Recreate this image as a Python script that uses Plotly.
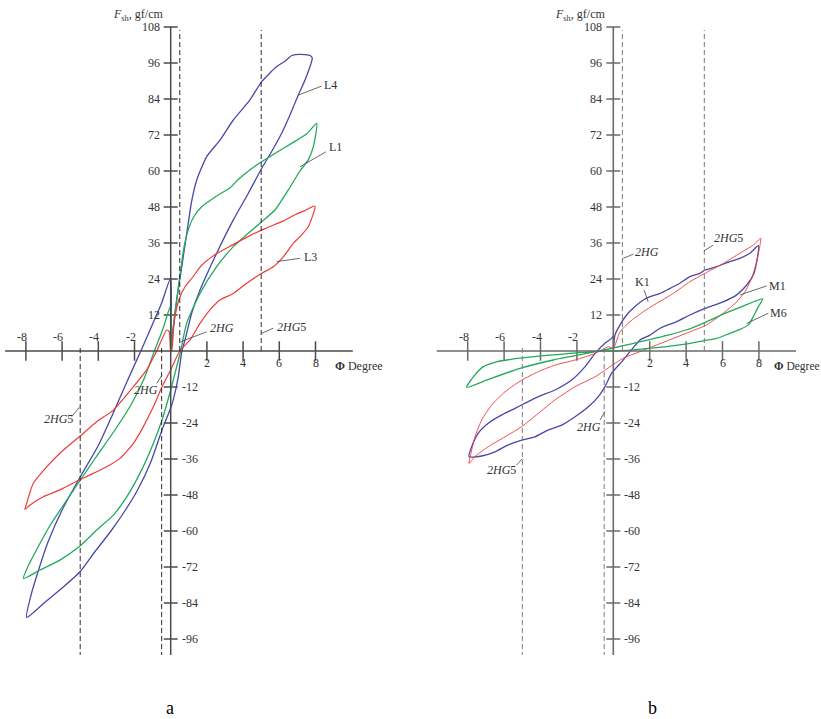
import plotly.graph_objects as go

# ---------------- data ----------------
x_ticks = [-8, -6, -4, -2, 2, 4, 6, 8]
y_ticks = [108, 96, 84, 72, 60, 48, 36, 24, 12, -12, -24, -36, -48, -60, -72, -84, -96]
guide_upper = [0.5, 5]      # 2HG, 2HG5 (positive side)
guide_lower = [-0.5, -5]    # 2HG, 2HG5 (negative side)

# panel a
L4_x = [0, 0.14, 0.33, 0.61, 0.88, 1.16, 1.44, 1.99, 2.72, 3.46, 4.38, 5.03, 5.86, 6.31, 6.69, 7.14, 7.7, 7.82,
        7.42, 7.05, 6.59, 6.13, 5.54, 5.03, 4.29, 3.46, 2.54, 1.62, 1.16, 0.79, 0.61, 0.42, 0.14, 0, -0.48, -1.1,
        -1.8, -2.5, -3.3, -4.2, -5.0, -6.0, -7.0, -7.96,
        -7.7, -7.3, -6.8, -6.0, -5.05, -4.0, -3.2, -2.4, -1.65, -1.0, -0.5, 0, 0]
L4_y = [0, 8, 17, 28, 39, 50, 57, 64.8, 70.3, 77, 83.7, 89.8, 94.8, 96.6, 98.5, 98.9, 98.5, 97.6,
        90.3, 85.3, 78.7, 72.6, 66.1, 60.9, 52.6, 43.7, 32.6, 20.3, 12.6, 3.7, -0.2, -8.6, -16.3, -19, -26.3, -37,
        -46, -53, -60, -67, -73.5, -79, -84, -88.8,
        -81, -73, -64, -53, -42.5, -31.5, -21, -10, 0, 9, 16, 24.3, 0]

L1_x = [0, 0.15, 0.35, 0.55, 0.75, 1.0, 1.3, 1.7, 2.5, 3.3, 3.7, 4.4, 5.0, 5.8, 6.7, 7.5, 8.07,
        7.88, 7.6, 7.14, 6.5, 5.76, 5.03, 4.2, 3.46, 2.54, 1.62, 0.88, 0.55, 0.14, 0, -0.48, -0.96, -1.7, -2.43,
        -3.17, -4.09, -5.05, -6.12, -7.22, -7.87, -8.14,
        -7.9, -7.3, -6.7, -6.0, -5.1, -4.2, -3.1, -2.2, -1.5, -0.9, -0.45, 0, 0]
L1_y = [0, 8, 18, 27, 35, 41, 45, 48, 51.5, 54.5, 57, 60.5, 63, 66, 69.3, 72.3, 75.9,
        68.1, 63.7, 60, 53.7, 47, 43.1, 38.8, 34.8, 28.1, 19.2, 9.2, 0, -9.7, -13, -23, -30.8, -40.8, -48.6,
        -54.7, -59.7, -65.2, -69.7, -73, -75.2, -75.8,
        -72, -65, -58.5, -52, -44, -36, -26.5, -18, -9.7, 0, 7, 15, 0]

L3_x = [0, 0.05, 0.2, 0.45, 0.8, 1.2, 1.7, 2.5, 3.4, 4.3, 5.2, 6.2, 6.9, 7.4, 7.97,
        7.6, 7.14, 6.77, 6.22, 5.67, 5.03, 4.2, 3.46, 2.72, 2.17, 1.62, 1.07, 0.5, 0, -0.48, -0.96, -1.51,
        -2.06, -2.8, -3.54, -4.28, -5.05, -6.12, -7.04, -7.77, -8.05,
        -7.96, -7.59, -6.85, -6.12, -5.05, -4.09, -3.17, -2.06, -1.33, -0.77, -0.22, -0.08, 0]
L3_y = [0, 0, 10, 17, 21.5, 24.5, 28.5, 32.3, 35.3, 38.2, 40.8, 43.3, 45.5, 46.8, 48.3,
        41.4, 38.1, 35.9, 31.4, 28.1, 25.9, 22.6, 19.2, 17, 13.7, 9.2, 3.7, 0, -6.3, -11.9, -18.6, -25.2,
        -30.8, -35.8, -38.6, -40.8, -43, -46.3, -48.6, -51.3, -52.8,
        -50.8, -44.1, -38.6, -34.1, -28.6, -23.6, -19.7, -11.9, -6.3, 0, 7, 6.4, 0]

# panel b
K1_x = [0, 0.09, 0.37, 0.73, 1.19, 1.65, 2.02, 2.57, 3.12, 3.66, 4.21, 4.76, 5.04, 5.68, 6.41, 6.96, 7.51, 7.97,
        7.88, 7.69, 7.33, 6.78, 6.04, 5.04, 4.21, 3.48, 2.57, 2.02, 1.47, 0.92, 0.46, -0.09, -0.46, -0.82, -1.37,
        -2.1, -2.84, -3.57, -4.3, -5.03, -5.77, -6.5, -7.23, -7.93,
        -7.78, -7.42, -6.87, -6.13, -5.4, -4.85, -4.12, -3.2, -2.29, -1.55, -1.0, -0.46, -0.09, 0, 0]
K1_y = [0, 5.3, 8.7, 12, 14.8, 17, 18.1, 19.2, 20.9, 22.6, 24.8, 25.9, 27, 28.1, 29.8, 30.9, 32.6, 35.1,
        29.8, 25.3, 22, 18.7, 16.4, 14.2, 12, 9.8, 7.6, 5.3, 3.7, -0.2, -3.6, -7.4, -11.9, -15.2, -18.6,
        -21.9, -24.7, -26.3, -28.6, -29.7, -31.3, -33.6, -35, -35.2,
        -31.9, -27.4, -24.1, -21.3, -19.1, -17.4, -15.2, -13, -9.7, -5.2, -0.8, 2.6, 4.2, 5, 0]

M1_x = [0, 0.37, 0.92, 1.65, 2.38, 3.3, 4.21, 5.04, 6.04, 6.96, 7.69, 8.1,
        8.06, 7.88, 7.6, 7.24, 6.78, 6.04, 5.13, 4.21, 3.3, 2.38, 1.47, 0.55, 0, -1.0, -2.1, -3.2, -4.12,
        -5.03, -5.95, -6.87, -7.6, -7.93,
        -7.82, -7.6, -7.23, -6.68, -5.95, -5.03, -4.12, -3.2, -2.1, -1.0, -0.27, 0]
M1_y = [0.9, 6.4, 9.8, 13.1, 15.9, 19.2, 23.1, 25.9, 29.2, 32.6, 35.3, 37.6,
        35.3, 29.8, 24.2, 19.8, 16.4, 12.6, 8.7, 6.4, 4.2, 2.0, -0.2, -2.4, -4.5, -8.6, -11.9, -16.3, -20.8,
        -25.2, -28.6, -31.9, -35.2, -37.5,
        -34.1, -28.6, -23, -18, -13.6, -9.7, -6.9, -4.7, -3, -0.8, 1.4, 0.9]

M6_x = [-8.06, -6.96, -5.13, -3.3, -1.46, 0, 1, 2, 3, 4, 5, 6, 7, 8.21,
        7.97, 7.69, 7.42, 6.96, 6.41, 5.68, 4.95, 3.85, 2.38, 0.92, 0, -1.1, -3.3, -5.13, -6.41, -7.14, -7.69, -8.06]
M6_y = [-12.1, -9.7, -5.8, -3, -0.8, 1.0, 2.4, 3.8, 5.3, 7.0, 9.4, 12.2, 14.6, 17.4,
        14.8, 11.4, 8.7, 7.2, 5.9, 4.2, 3.4, 2.2, 1.1, 0.3, 0, -0.2, -1.3, -2.4, -3.6, -5.2, -8.6, -12.1]

# ---------------- figure ----------------
W, H = 821, 719
FONT = "Liberation Serif, Times New Roman, serif"
BLUE, GREEN, RED = "#4848a8", "#22aa5c", "#f03a3a"

fig = go.Figure()

panels = [
    dict(xa="x", ya="y", axis_col="#4a4a4a", dash_col="#2a2a2a", xmin=-9.15, xmax=10.06, lw=1.5,
         curves=[(L4_x, L4_y, BLUE, 1.3), (L1_x, L1_y, GREEN, 1.3), (L3_x, L3_y, RED, 1.2)],
         deg_x=8.97, deg_size=12),
    dict(xa="x2", ya="y2", axis_col="#6a6a6a", dash_col="#777777", xmin=-9.7, xmax=10.04, lw=1.6,
         curves=[(K1_x, K1_y, BLUE, 1.3), (M1_x, M1_y, RED, 0.9), (M6_x, M6_y, GREEN, 1.3)],
         deg_x=8.72, deg_size=11.5),
]

shapes = []
annotations = []

def ann(text, x, y, xref, yref, xanchor="left", yanchor="middle", xshift=0, yshift=0, size=12, color="#333333"):
    annotations.append(dict(text=text, x=x, y=y, xref=xref, yref=yref, xanchor=xanchor, yanchor=yanchor,
                            xshift=xshift, yshift=yshift, showarrow=False,
                            font=dict(family=FONT, size=size, color=color)))

for p in panels:
    xa, ya = p["xa"], p["ya"]
    # axes
    shapes.append(dict(type="line", xref=xa, yref=ya, x0=p["xmin"], x1=p["xmax"], y0=0, y1=0,
                       line=dict(color=p["axis_col"], width=p["lw"])))
    shapes.append(dict(type="line", xref=xa, yref=ya, x0=0, x1=0, y0=-101.3, y1=108,
                       line=dict(color=p["axis_col"], width=p["lw"])))
    # guide lines
    for gx in guide_upper:
        shapes.append(dict(type="line", xref=xa, yref=ya, x0=gx, x1=gx, y0=0, y1=107,
                           line=dict(color=p["dash_col"], width=1, dash="5px,3px")))
    for gx in guide_lower:
        shapes.append(dict(type="line", xref=xa, yref=ya, x0=gx, x1=gx, y0=1, y1=-101.3,
                           line=dict(color=p["dash_col"], width=1, dash="5px,3px")))
    # ticks
    fig.add_trace(go.Scatter(x=x_ticks, y=[0] * len(x_ticks), xaxis=xa, yaxis=ya, mode="markers",
                             marker=dict(symbol="line-ns", size=14, line=dict(color=p["axis_col"], width=1.5)),
                             hoverinfo="skip"))
    fig.add_trace(go.Scatter(x=[0] * len(y_ticks), y=y_ticks, xaxis=xa, yaxis=ya, mode="markers",
                             marker=dict(symbol="line-ew", size=10, line=dict(color=p["axis_col"], width=1.5)),
                             hoverinfo="skip"))
    # tick labels
    for t in x_ticks:
        if t < 0:
            ann(str(t), t, 0, xa, ya, xanchor="center", xshift=-4, yshift=14)
        else:
            ann(str(t), t, 0, xa, ya, xanchor="center", yshift=-12)
    for t in y_ticks:
        if t > 0:
            ann(str(t), 0, t, xa, ya, xanchor="right", xshift=-9)
        else:
            ann(str(t), 0, t, xa, ya, xanchor="left", xshift=9)
    # axis titles
    ann("<i>F</i><sub>sh</sub>, gf/cm", 0, 112, xa, ya, xanchor="right", xshift=-6)
    ann("<b>Φ</b> Degree", p["deg_x"], -5, xa, ya, xanchor="left", size=p["deg_size"])
    # curves
    for cx, cy, col, w in p["curves"]:
        fig.add_trace(go.Scatter(x=cx, y=cy, xaxis=xa, yaxis=ya, mode="lines",
                                 line=dict(color=col, width=w, shape="spline", smoothing=0.6),
                                 hoverinfo="skip"))

# curve labels and leaders (panel a)
lead_a = [((7.05, 85.3), (8.34, 88.3)), ((7.14, 61.4), (8.58, 66.4)), ((5.86, 29.8), (7.14, 30.9)),
          ((0.55, 3.1), (1.99, 6.4)), ((5.03, 5.9), (5.67, 7.6)),
          ((-0.77, -10.8), (-0.48, -8)), ((-5.47, -21.9), (-5.05, -18.8))]
for (a, b) in lead_a:
    shapes.append(dict(type="line", xref="x", yref="y", x0=a[0], y0=a[1], x1=b[0], y1=b[1],
                       line=dict(color="#444444", width=0.8)))
ann("L4", 8.36, 88.7, "x", "y")
ann("L1", 8.64, 68.1, "x", "y")
ann("L3", 7.26, 31.4, "x", "y")
ann("<i>2HG</i>", 2.08, 7.6, "x", "y")
ann("<i>2HG</i>5", 5.74, 7.9, "x", "y")
ann("<i>2HG</i>", -0.57, -13, "x", "y", xanchor="right")
ann("<i>2HG</i>5", -5.27, -22.8, "x", "y", xanchor="right")

# curve labels and leaders (panel b)
lead_b = [((0.55, 30.9), (1.1, 32.3)), ((4.98, 33.4), (5.49, 35.3)), ((1.92, 16.4), (1.69, 20.3)),
          ((6.96, 18.7), (8.43, 21.7)), ((7.33, 9.2), (8.52, 12.6)),
          ((-0.73, -23), (-0.46, -20.2)), ((-5.31, -38), (-4.98, -35.8))]
for (a, b) in lead_b:
    shapes.append(dict(type="line", xref="x2", yref="y2", x0=a[0], y0=a[1], x1=b[0], y1=b[1],
                       line=dict(color="#444444", width=0.8)))
ann("<i>2HG</i>", 1.08, 32.9, "x2", "y2")
ann("<i>2HG</i>5", 5.45, 37.6, "x2", "y2")
ann("K1", 1.08, 23.1, "x2", "y2")
ann("M1", 8.43, 21.7, "x2", "y2")
ann("M6", 8.49, 12.6, "x2", "y2")
ann("<i>2HG</i>", -0.57, -25.4, "x2", "y2", xanchor="right")
ann("<i>2HG</i>5", -5.24, -39.7, "x2", "y2", xanchor="right")

# panel letters
ann("a", 170 / W, 1 - 708 / H, "paper", "paper", xanchor="center", size=18, color="#000000")
ann("b", 652 / W, 1 - 708 / H, "paper", "paper", xanchor="center", size=18, color="#000000")

fig.update_layout(
    width=W, height=H, margin=dict(l=0, r=0, t=0, b=0, pad=0),
    plot_bgcolor="white", paper_bgcolor="white", showlegend=False,
    xaxis=dict(domain=[0, 0.45], range=[-9.4309, 10.9807], visible=False, anchor="y"),
    yaxis=dict(domain=[0, 1], range=[-122.667, 117], visible=False, anchor="x"),
    xaxis2=dict(domain=[0.5, 1], range=[-11.1429, 11.4121], visible=False, anchor="y2"),
    yaxis2=dict(domain=[0, 1], range=[-122.667, 117], visible=False, anchor="x2"),
    shapes=shapes, annotations=annotations,
)

fig.write_html("out.html", config={"displayModeBar": False},
               post_script="document.body.style.margin='0';document.body.style.overflow='hidden';")
